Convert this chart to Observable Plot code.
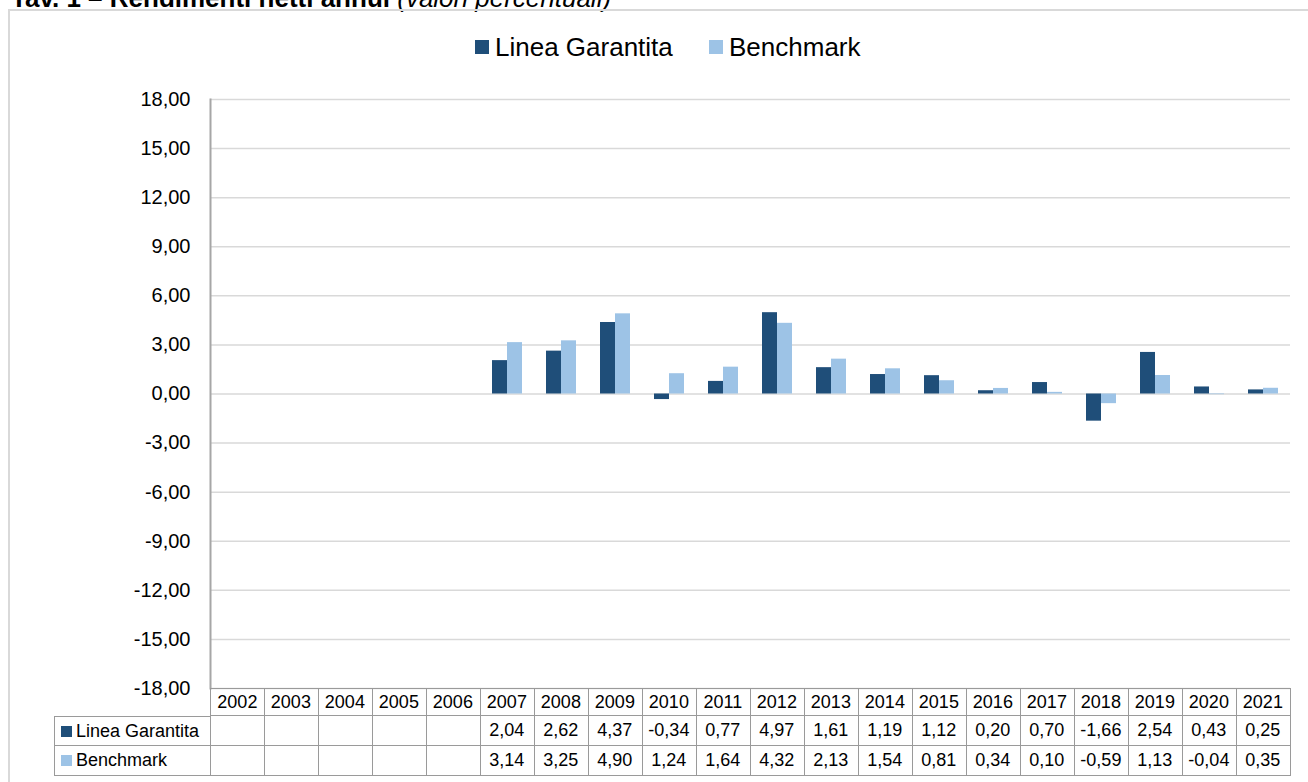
<!DOCTYPE html>
<html>
<head>
<meta charset="utf-8">
<script src="https://cdn.jsdelivr.net/npm/d3@7"></script>
<script src="https://cdn.jsdelivr.net/npm/@observablehq/plot@0.6"></script>
<style>
  html, body { margin: 0; padding: 0; background: #fff; overflow: hidden; }
  body { width: 1308px; height: 782px; position: relative; font-family: "Liberation Sans", Arial, sans-serif; color: #000; }
  #title { position: absolute; left: 11px; top: -15px; font-size: 26px; line-height: 26px; white-space: nowrap; }
  #title b { font-weight: bold; }
  #title i { font-style: italic; }
  #frame { position: absolute; left: 8px; top: 9px; width: 1400px; height: 900px; border: 2px solid #d9d9d9; box-sizing: border-box; }
  #chart { position: absolute; left: 0; top: 0; }
  .leg { position: absolute; font-size: 26px; line-height: 26px; white-space: nowrap; }
  .sw { position: absolute; }
  .cell { position: absolute; box-sizing: border-box; border-color: #9a9a9a; border-style: solid; border-width: 0; font-size: 18px; display: flex; align-items: center; justify-content: center; white-space: nowrap; }
  .lab { justify-content: flex-start; padding-left: 21px; }
</style>
</head>
<body>
<div id="title"><b>Tav. 1 – Rendimenti netti annui</b> <i>(valori percentuali)</i></div>
<div id="frame"></div>
<div id="chart"></div>
<script>
const years = [2002, 2003, 2004, 2005, 2006, 2007, 2008, 2009, 2010, 2011, 2012, 2013, 2014, 2015, 2016, 2017, 2018, 2019, 2020, 2021];
const seriesNames = ["Linea Garantita", "Benchmark"];
const lineaGarantita = [null, null, null, null, null, 2.04, 2.62, 4.37, -0.34, 0.77, 4.97, 1.61, 1.19, 1.12, 0.20, 0.70, -1.66, 2.54, 0.43, 0.25];
const benchmark = [null, null, null, null, null, 3.14, 3.25, 4.90, 1.24, 1.64, 4.32, 2.13, 1.54, 0.81, 0.34, 0.10, -0.59, 1.13, -0.04, 0.35];
const yTicks = [-18, -15, -12, -9, -6, -3, 0, 3, 6, 9, 12, 15, 18];
const seriesColors = ["#1f4e79", "#9dc3e6"];

const seriesValues = [lineaGarantita, benchmark];
const rows = years.flatMap((year, i) => seriesNames.map((s, k) => ({year, series: s, value: seriesValues[k][i]})));
const fmt = d => (d == null ? "" : d.toFixed(2).replace(".", ","));

const W = 1308, H = 782;
const plot = Plot.plot({
  width: W,
  height: H,
  marginLeft: 209,
  marginRight: 17,
  marginTop: 99,
  marginBottom: 94,
  style: {fontFamily: '"Liberation Sans", Arial, sans-serif', fontSize: "20px", background: "transparent", color: "#000"},
  fx: {domain: years, padding: 0, axis: null, label: null},
  x: {domain: seriesNames, paddingInner: 0, paddingOuter: 0.75, axis: null, label: null},
  y: {domain: [-18, 18], label: null},
  color: {domain: seriesNames, range: seriesColors},
  marks: [
    Plot.ruleY(yTicks, {stroke: "#d9d9d9", strokeWidth: 1.5}),
    Plot.barY(rows, {fx: "year", x: "series", y: "value", fill: "series"}),
    Plot.axisY({ticks: yTicks, tickSize: 0, tickPadding: 20, tickFormat: fmt, fontSize: 20, fill: "#000", label: null}),
    Plot.frame({anchor: "left", facetAnchor: "left", stroke: "#a6a6a6", strokeWidth: 2})
  ]
});
document.getElementById("chart").appendChild(plot);

// Legend
const fxS = plot.scale("fx");
const yS = plot.scale("y");
const legendItems = [
  {name: seriesNames[0], color: seriesColors[0], left: 475},
  {name: seriesNames[1], color: seriesColors[1], left: 709}
];
for (const it of legendItems) {
  const sw = document.createElement("div");
  sw.className = "sw";
  Object.assign(sw.style, {left: it.left + "px", top: "40px", width: "14px", height: "14px", background: it.color});
  document.body.appendChild(sw);
  const t = document.createElement("div");
  t.className = "leg";
  t.textContent = it.name;
  Object.assign(t.style, {left: (it.left + 20) + "px", top: "34px"});
  document.body.appendChild(t);
}

// Data table under the chart, aligned to the fx scale
const bw = fxS.bandwidth;
const tableTop = yS.apply(-18);
const rowH = [28, 30, 30];
const rowTop = [tableTop, tableTop + rowH[0], tableTop + rowH[0] + rowH[1]];
function cell(left, top, width, height, text, borders, extraClass) {
  const c = document.createElement("div");
  c.className = "cell" + (extraClass ? " " + extraClass : "");
  Object.assign(c.style, {left: left + "px", top: top + "px", width: width + "px", height: height + "px"});
  for (const b of borders) c.style["border" + b + "Width"] = "1.5px";
  if (typeof text === "string") c.textContent = text; else if (text) c.appendChild(text);
  document.body.appendChild(c);
  return c;
}
years.forEach((yr, i) => {
  const x0 = fxS.apply(yr);
  cell(x0, rowTop[0], bw + 0.75, rowH[0], String(yr), i === 0 ? ["Top", "Right", "Bottom", "Left"] : ["Top", "Right", "Bottom"]);
  cell(x0, rowTop[1], bw + 0.75, rowH[1], fmt(lineaGarantita[i]), ["Right", "Bottom"]);
  cell(x0, rowTop[2], bw + 0.75, rowH[2], fmt(benchmark[i]), ["Right", "Bottom"]);
});
const firstX = fxS.apply(years[0]);
seriesNames.forEach((s, k) => {
  const c = cell(54, rowTop[k + 1], firstX - 54 + 0.75, rowH[k + 1], s, k === 0 ? ["Top", "Right", "Bottom", "Left"] : ["Right", "Bottom", "Left"], "lab");
  const sw = document.createElement("div");
  Object.assign(sw.style, {position: "absolute", left: "6px", top: "50%", marginTop: "-5.5px", width: "11px", height: "11px", background: seriesColors[k]});
  c.appendChild(sw);
});
</script>
</body>
</html>
